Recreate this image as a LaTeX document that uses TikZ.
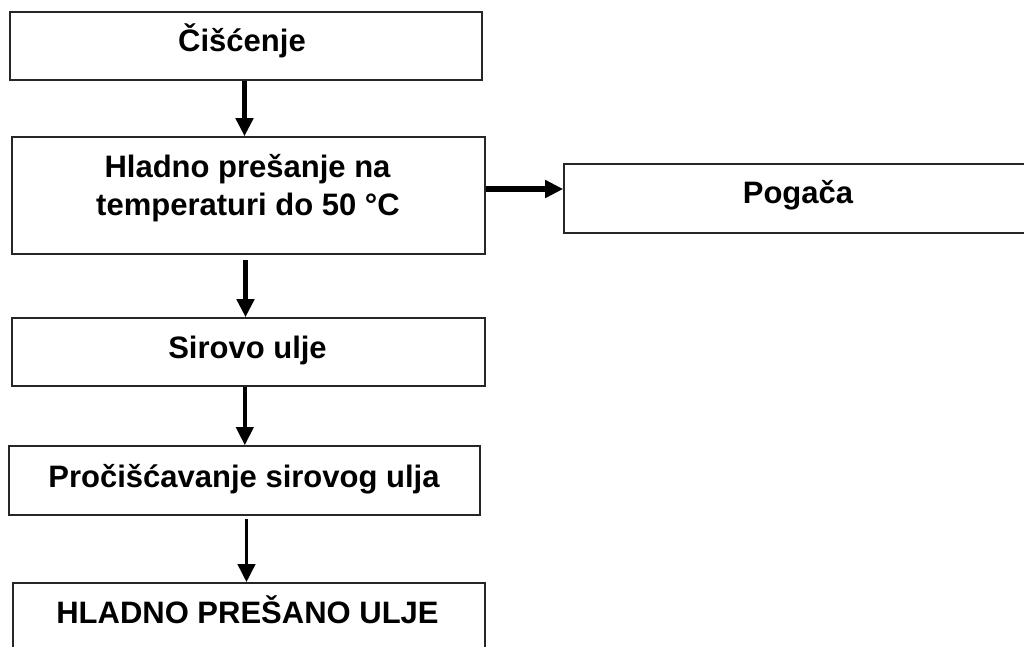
\documentclass[tikz,border=0pt]{standalone}
\usepackage{fontspec}
\setmainfont{Liberation Sans}
\usetikzlibrary{arrows.meta}
\begin{document}
\begin{tikzpicture}[x=1pt,y=-1pt,
  box/.style={draw=black!85, line width=1.6pt, fill=white, inner sep=0pt},
  txt/.style={inner sep=0pt, anchor=base, font=\fontsize{31}{38}\selectfont\bfseries},
  arr/.style={-{Triangle[width=17pt,length=18pt]}, line width=#1},
  arr/.default=4pt]
\useasboundingbox (0,0) rectangle (1024,646);
\clip (0,0) rectangle (1024,646);
% boxes
\node[box, minimum width=472pt, minimum height=68pt] (b1) at (246,46) {};
\node[box, minimum width=473pt, minimum height=117pt] (b2) at (248.5,195.5) {};
\node[box, minimum width=466pt, minimum height=69pt] (pog) at (797,198.5) {};
\node[box, minimum width=473pt, minimum height=68pt] (b3) at (248.5,352) {};
\node[box, minimum width=471pt, minimum height=69pt] (b4) at (244.5,480.5) {};
\node[box, minimum width=472pt, minimum height=90pt] (b5) at (249,628) {};
% texts
\node[txt] (t1) at (242,51) {Čišćenje};
\node[txt] (t2a) at (247.5,177) {Hladno prešanje na};
\node[txt] (t2b) at (248,215) {temperaturi do 50 °C};
\node[txt] (tp) at (798,203) {Pogača};
\node[txt] (t3) at (247.5,358) {Sirovo ulje};
\node[txt] (t4) at (244,487) {Pročišćavanje sirovog ulja};
\node[txt] (t5) at (247.5,623) {HLADNO PREŠANO ULJE};
% connectors
\draw[arr=4.5pt] ([xshift=-1.5pt]b1.south) -- ([xshift=-1.5pt]b1.south |- b2.north);
\draw[arr=5.5pt] ([xshift=-3pt,yshift=-5pt]b2.south) -- ([xshift=-3pt]b2.south |- b3.north);
\draw[arr=3.8pt] ([xshift=-3.7pt]b3.south) -- ([xshift=-3.7pt]b3.south |- b4.north);
\draw[arr=3.8pt] ([xshift=2pt,yshift=-3pt]b4.south) -- ([xshift=2pt]b4.south |- b5.north);
\draw[arr=6.5pt] ([yshift=6.5pt]b2.east) -- ([yshift=6.5pt]b2.east -| pog.west);
\end{tikzpicture}
\end{document}
